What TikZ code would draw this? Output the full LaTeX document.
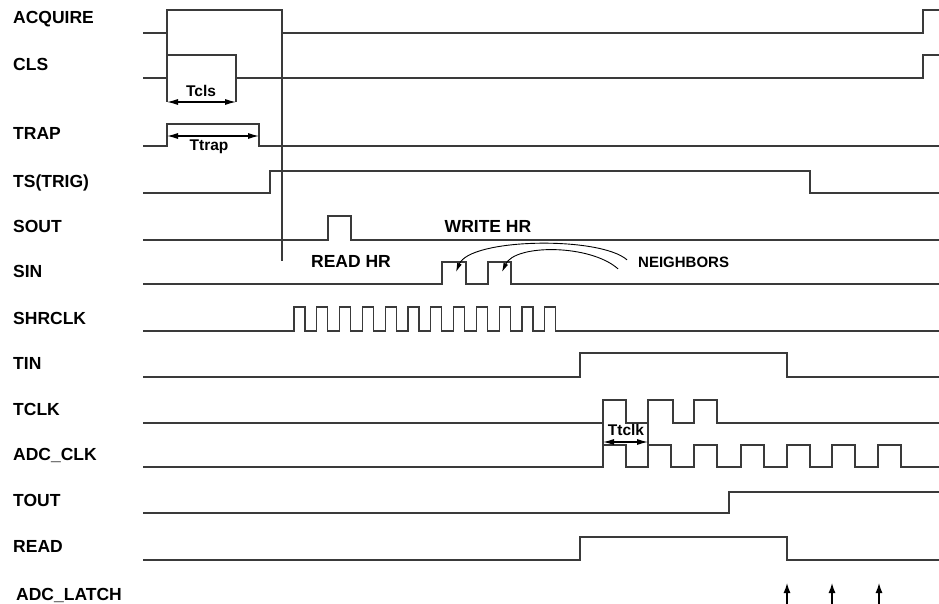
\documentclass[tikz,border=0pt]{standalone}
\usepackage{fontspec}
\setmainfont{Liberation Sans}
\usepackage{xcolor}
\usetikzlibrary{arrows.meta}

\definecolor{wave}{HTML}{3A3A3A}

\tikzset{
  sig/.style={draw=wave, line width=1.2pt},
  guide/.style={draw=wave, line width=1.2pt},
  lbl/.style={anchor=base west, inner sep=0pt, font=\fontsize{17.5}{20}\selectfont\bfseries},
  tlbl/.style={anchor=base, inner sep=0pt, font=\fontsize{15.5}{18}\selectfont\bfseries},
  dimarrow/.style={black, line width=1.1pt, {Latex[length=11pt,width=6pt]}-{Latex[length=11pt,width=6pt]}},
  notearrow/.style={black, line width=0.9pt, -{Latex[length=9pt,width=5pt]}},
  latcharrow/.style={black, line width=1.3pt, -{Latex[length=10pt,width=7pt]}},
}

\begin{document}
\begin{tikzpicture}[x=1pt,y=-1pt]
    \useasboundingbox (0,0) rectangle (939,604);
    % signal names
    \node[lbl] (acquire) at (13,24) {ACQUIRE};
    \node[lbl] (cls) at (13,71) {CLS};
    \node[lbl] (trap) at (13,140) {TRAP};
    \node[lbl] (tstrig) at (13,187) {TS(TRIG)};
    \node[lbl] (sout) at (13,233) {SOUT};
    \node[lbl] (sin) at (13,277) {SIN};
    \node[lbl] (shrclk) at (13,324) {SHRCLK};
    \node[lbl] (tin) at (13,369) {TIN};
    \node[lbl] (tclk) at (13,415) {TCLK};
    \node[lbl] (adcclk) at (13,460) {ADC\_CLK};
    \node[lbl] (tout) at (13,506) {TOUT};
    \node[lbl] (read) at (13,552) {READ};
    \node[lbl] (adclatch) at (16,600) {ADC\_LATCH};

    % waveforms
    \draw[sig] (143,33) -- (167,33) -- (167,10) -- (282,10) -- (282,33) -- (923,33) -- (923,10) -- (939,10);
    \draw[sig] (143,78) -- (167,78) -- (167,55) -- (236,55) -- (236,78) -- (923,78) -- (923,55) -- (939,55);
    \draw[sig] (143,146) -- (167,146) -- (167,124) -- (259,124) -- (259,146) -- (939,146);
    \draw[sig] (143,193) -- (270,193) -- (270,171) -- (810,171) -- (810,193) -- (939,193);
    \draw[sig] (143,240) -- (328,240) -- (328,216) -- (351,216) -- (351,240) -- (939,240);
    \draw[sig] (143,284) -- (442,284) -- (442,262) -- (466,262) -- (466,284)
        -- (488,284) -- (488,262) -- (511,262) -- (511,284) -- (939,284);
    \draw[sig] (143,331) -- (294,331)
        \foreach \i in {0,...,11} { -- ({294+22.8*\i},331) -- ({294+22.8*\i},307) -- ({305+22.8*\i},307) -- ({305+22.8*\i},331) }
        -- (939,331);
    \draw[sig] (143,377) -- (580,377) -- (580,353) -- (787,353) -- (787,377) -- (939,377);
    \draw[sig] (143,423) -- (603,423) -- (603,400) -- (626,400) -- (626,423) -- (648,423) -- (648,400)
        -- (673,400) -- (673,423) -- (694,423) -- (694,400) -- (717,400) -- (717,423) -- (939,423);
    \draw[sig] (143,467)
        \foreach \x in {603,648,694,741,787,832,878} { -- (\x,467) -- (\x,445) -- ({\x+23},445) -- ({\x+23},467) }
        -- (939,467);
    \draw[sig] (143,513) -- (729,513) -- (729,492) -- (939,492);
    \draw[sig] (143,560) -- (580,560) -- (580,537) -- (787,537) -- (787,560) -- (939,560);

    % guide lines
    \draw[guide] (167,33) -- (167,55);
    \draw[guide] (167,78) -- (167,102);
    \draw[guide] (236,78) -- (236,102);
    \draw[guide] (282,33) -- (282,261);
    \draw[guide] (603,423) -- (603,445);
    \draw[guide] (648,423) -- (648,445);

    % timing marks
    \coordinate (tcls1) at (167,102);
    \coordinate (tcls2) at (236,102);
    \draw[dimarrow] (tcls1) -- (tcls2);
    \node[tlbl] (tcls) at (201,97) {Tcls};
    \coordinate (ttrap1) at (167,136);
    \coordinate (ttrap2) at (259,136);
    \draw[dimarrow] (ttrap1) -- (ttrap2);
    \node[tlbl] (ttrap) at (209,151) {Ttrap};
    \coordinate (ttclk1) at (603,442);
    \coordinate (ttclk2) at (648,442);
    \draw[dimarrow] (ttclk1) -- (ttclk2);
    \node[tlbl] (ttclk) at (626,435) {Ttclk};

    % shift register notes
    \node[lbl, anchor=base] (readhr) at (351,267) {READ HR};
    \node[lbl, anchor=base] (writehr) at (488,233) {WRITE HR};
    \node[anchor=base west, inner sep=0pt, font=\fontsize{15}{18}\selectfont\bfseries] (neighbors) at (638,267) {NEIGHBORS};
    \coordinate (bit1) at (456,272);
    \coordinate (bit2) at (502,272);
    \draw[notearrow] ([xshift=-11pt,yshift=2pt]neighbors.west) .. controls (600,236) and (470,238) .. (bit1);
    \draw[notearrow] ([xshift=-20pt,yshift=-7pt]neighbors.west) .. controls (590,244) and (515,244) .. (bit2);

    % latch strobes
    \foreach \x in {787,832,879}
        \draw[latcharrow] (\x,604) -- (\x,583);
\end{tikzpicture}
\end{document}
